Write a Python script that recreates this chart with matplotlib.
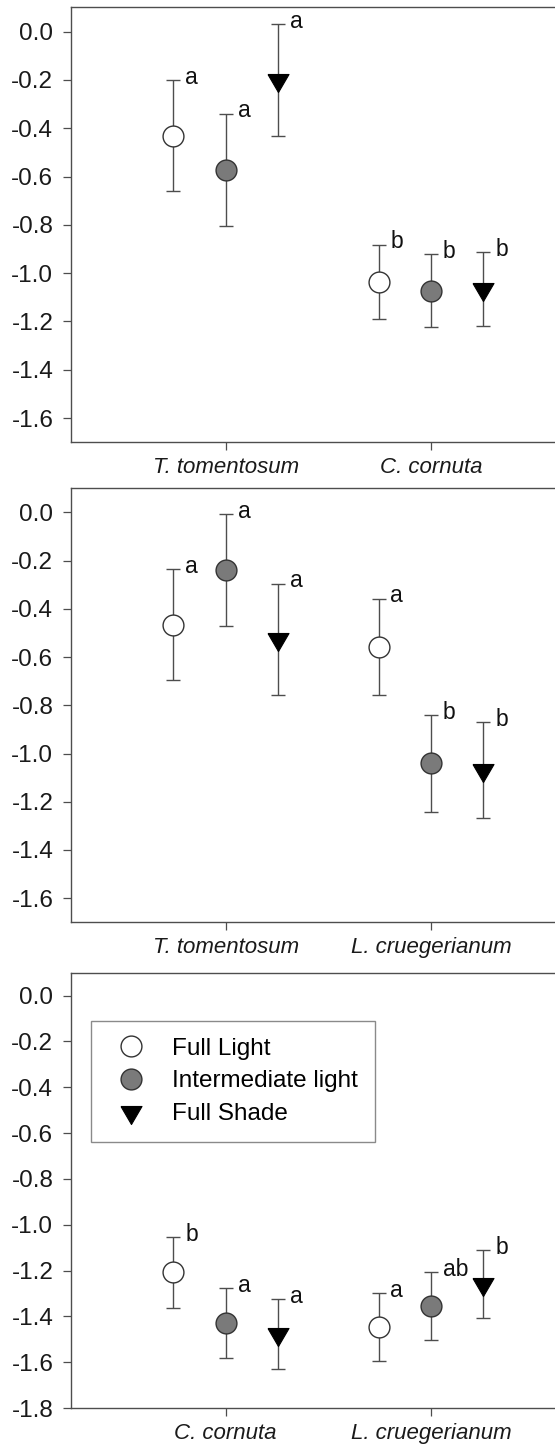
import matplotlib
matplotlib.use("Agg")
import matplotlib.pyplot as plt
import numpy as np
from matplotlib.lines import Line2D

plt.rcParams['font.family'] = ['Liberation Sans', 'DejaVu Sans']
plt.rcParams['axes.unicode_minus'] = False

treatments = ['Full Light', 'Intermediate light', 'Full Shade']

# panel 1: T. tomentosum vs C. cornuta (rows = treatments)
p1_species = ['T. tomentosum', 'C. cornuta']
p1_mean = [[-0.432, -1.035], [-0.572, -1.072], [-0.202, -1.067]]
p1_se = [[0.230, 0.153], [0.232, 0.152], [0.232, 0.153]]
p1_letters = [['a', 'b'], ['a', 'b'], ['a', 'b']]

# panel 2: T. tomentosum vs L. cruegerianum
p2_species = ['T. tomentosum', 'L. cruegerianum']
p2_mean = [[-0.466, -0.558], [-0.238, -1.041], [-0.526, -1.069]]
p2_se = [[0.231, 0.201], [0.232, 0.200], [0.231, 0.199]]
p2_letters = [['a', 'a'], ['a', 'b'], ['a', 'b']]

# panel 3: C. cornuta vs L. cruegerianum
p3_species = ['C. cornuta', 'L. cruegerianum']
p3_mean = [[-1.208, -1.446], [-1.430, -1.355], [-1.477, -1.258]]
p3_se = [[0.155, 0.149], [0.153, 0.147], [0.153, 0.147]]
p3_letters = [['b', 'a'], ['a', 'ab'], ['a', 'b']]

p12_yticks = [0.0, -0.2, -0.4, -0.6, -0.8, -1.0, -1.2, -1.4, -1.6]
p3_yticks = [0.0, -0.2, -0.4, -0.6, -0.8, -1.0, -1.2, -1.4, -1.6, -1.8]

# down triangle with its centroid on the data point
tri = [(-0.875, 0.5), (0.875, 0.5), (0, -1.0), (-0.875, 0.5)]
styles = [
    dict(marker='o', ms=15, mfc='white', mec='#333333', mew=1.0),
    dict(marker='o', ms=15, mfc='#7a7a7a', mec='#333333', mew=1.0),
    dict(marker=tri, ms=17.3, mfc='black', mec='black', mew=0.8),
]
offsets = [-0.255, 0.0, 0.255]
group_x = np.array([1.0, 2.0])
line_col = '#4d4d4d'


def draw_panel(ax, species, means, ses, letters, ylo, yticks):
    for i in range(len(treatments)):
        x = group_x + offsets[i]
        ax.errorbar(x, means[i], yerr=ses[i], fmt='none', ecolor=line_col,
                    elinewidth=1.0, capsize=4.7, capthick=1.0, zorder=2)
        ax.plot(x, means[i], linestyle='none', zorder=3, **styles[i])
        for xi, m, s, lab in zip(x, means[i], ses[i], letters[i]):
            ax.annotate(lab, (xi, m + s), xytext=(8.5, 2), textcoords='offset points',
                        ha='left', va='center', fontsize=16.5, color='#111111')
    ax.set_xlim(0.245, 2.604)
    ax.set_ylim(ylo, 0.1)
    ax.set_yticks(yticks)
    ax.set_yticklabels(['%.1f' % v for v in yticks])
    ax.set_xticks(group_x)
    ax.set_xticklabels(species, fontstyle='italic')
    ax.spines['right'].set_visible(False)
    for sp in ['top', 'left', 'bottom']:
        ax.spines[sp].set_color(line_col)
        ax.spines[sp].set_linewidth(1.0)
    ax.tick_params(direction='out', length=5.5, width=0.9, color=line_col,
                   labelcolor='#1a1a1a')
    ax.tick_params(axis='y', pad=7, labelsize=17.5)
    ax.tick_params(axis='x', pad=5, labelsize=16)


fig = plt.figure(figsize=(5.55, 14.44), dpi=100)
left, width = 0.1274, 0.8726
ax1 = fig.add_axes([left, 0.6937, width, 0.3012])
ax2 = fig.add_axes([left, 0.3613, width, 0.3005])
ax3 = fig.add_axes([left, 0.0249, width, 0.3015])

draw_panel(ax1, p1_species, p1_mean, p1_se, p1_letters, -1.7, p12_yticks)
draw_panel(ax2, p2_species, p2_mean, p2_se, p2_letters, -1.7, p12_yticks)
draw_panel(ax3, p3_species, p3_mean, p3_se, p3_letters, -1.8, p3_yticks)

handles = [Line2D([], [], linestyle='none', **st) for st in styles]
leg = ax3.legend(handles, treatments, loc='upper left', bbox_to_anchor=(0.042, 0.889),
                 borderaxespad=0, fancybox=False, framealpha=1, edgecolor='#8a8a8a',
                 fontsize=17.5, handlelength=1.9, handletextpad=0.77, labelspacing=0.45,
                 borderpad=0.68, numpoints=1)
leg.get_frame().set_linewidth(1.0)

fig.savefig('out.png', dpi=100)
